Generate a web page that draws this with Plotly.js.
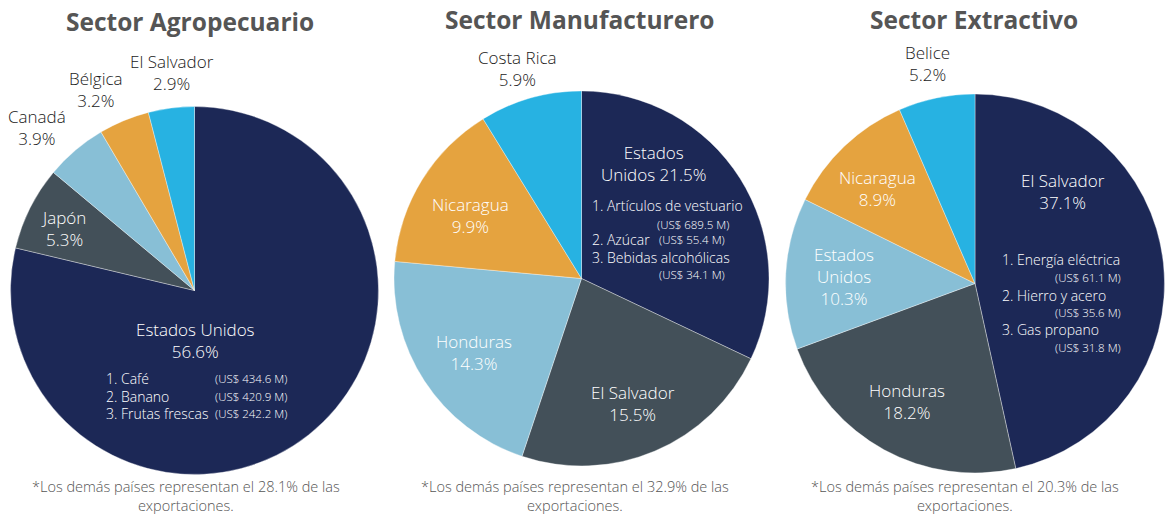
<!DOCTYPE html>
<html>
<head>
<meta charset="utf-8">
<script src="https://cdn.plot.ly/plotly-3.0.1.min.js"></script>
<style>html,body{margin:0;padding:0;background:#fff;}#chart{width:1168px;height:516px;}</style>
</head>
<body>
<div id="chart"></div>
<script>
// ---- Data ----
const sectorTitles = ["Sector Agropecuario", "Sector Manufacturero", "Sector Extractivo"];
const agroCountries = ["Estados Unidos", "Japón", "Canadá", "Bélgica", "El Salvador"];
const agroShares = [56.6, 5.3, 3.9, 3.2, 2.9];
const manuCountries = ["Estados Unidos", "El Salvador", "Honduras", "Nicaragua", "Costa Rica"];
const manuShares = [21.5, 15.5, 14.3, 9.9, 5.9];
const extrCountries = ["El Salvador", "Honduras", "Estados Unidos", "Nicaragua", "Belice"];
const extrShares = [37.1, 18.2, 10.3, 8.9, 5.2];
const othersShares = [28.1, 32.9, 20.3];
const agroProducts = ["1. Café", "2. Banano", "3. Frutas frescas"];
const agroProductValues = ["(US$ 434.6 M)", "(US$ 420.9 M)", "(US$ 242.2 M)"];
const manuProducts = ["1. Artículos de vestuario", "2. Azúcar", "3. Bebidas alcohólicas"];
const manuProductValues = ["(US$ 689.5 M)", "(US$ 55.4 M)", "(US$ 34.1 M)"];
const extrProducts = ["1. Energía eléctrica", "2. Hierro y acero", "3. Gas propano"];
const extrProductValues = ["(US$ 61.1 M)", "(US$ 35.6 M)", "(US$ 31.8 M)"];

// ---- Styling ----
const W = 1168, H = 516;
const sliceColors = ["#1c2856", "#435059", "#88bfd6", "#e5a33f", "#27b2e2"];
const FONT = "Open Sans, sans-serif";
const px = x => x / W;
const py = y => 1 - y / H;

function pieTrace(labels, values, cx, cy, r) {
  return {
    type: "pie", labels: labels, values: values, sort: false,
    direction: "clockwise", rotation: 0, textinfo: "none", hoverinfo: "label+value",
    marker: {colors: sliceColors, line: {color: "rgba(255,255,255,0.6)", width: 0.6}},
    domain: {x: [px(cx - r), px(cx + r)], y: [py(cy + r), py(cy - r)]},
    showlegend: false
  };
}

const data = [
  pieTrace(agroCountries, agroShares, 194.5, 290.5, 184),
  pieTrace(manuCountries, manuShares, 581.5, 278.5, 187.5),
  pieTrace(extrCountries, extrShares, 975, 283.5, 189.5)
];

const ann = [];
function lab(text, x, y, color, size, anchor) {
  ann.push({text: text, x: px(x), y: py(y), xref: "paper", yref: "paper", showarrow: false,
    xanchor: anchor || "center", yanchor: "middle", align: anchor || "center",
    font: {family: FONT, size: size || 17, color: color, weight: 300}});
}
const pct = v => v.toFixed(1) + "%";
const DARK = "#1a1a1a", WH = "#ffffff";
const LS = 17, PS = 14, VS = 11.5;

// Titles
[[sectorTitles[0], 190, 22], [sectorTitles[1], 579, 20], [sectorTitles[2], 974, 20]].forEach(t => {
  ann.push({text: t[0], x: px(t[1]), y: py(t[2]), xref: "paper", yref: "paper", showarrow: false,
    xanchor: "center", yanchor: "middle", font: {family: FONT, size: 24.5, color: "#555555", weight: 700}});
});

// Agropecuario labels
lab(agroCountries[0] + "<br>" + pct(agroShares[0]), 195, 340, WH, LS);
lab(agroCountries[1] + "<br>" + pct(agroShares[1]), 63, 228, WH, LS);
lab(agroCountries[2] + "<br>" + pct(agroShares[2]), 37, 127, DARK, LS);
lab(agroCountries[3] + "<br>" + pct(agroShares[3]), 96, 90, DARK, LS);
lab(agroCountries[4] + "<br>" + pct(agroShares[4]), 172, 72, DARK, LS);
[378, 396, 413].forEach((y, i) => {
  lab(agroProducts[i], 104, y, WH, PS, "left");
  lab(agroProductValues[i], 289, y, WH, VS, "right");
});

// Manufacturero labels
lab("Estados<br>Unidos " + pct(manuShares[0]), 653, 163, WH, LS);
lab(manuCountries[1] + "<br>" + pct(manuShares[1]), 633, 403, WH, LS);
lab(manuCountries[2] + "<br>" + pct(manuShares[2]), 474, 352, WH, LS);
lab(manuCountries[3] + "<br>" + pct(manuShares[3]), 471, 215, WH, LS);
lab(manuCountries[4] + "<br>" + pct(manuShares[4]), 517, 68, DARK, LS);
lab(manuProducts[0], 590, 205, WH, PS, "left");
lab(manuProductValues[0], 731, 224, WH, VS, "right");
lab(manuProducts[1], 590, 240, WH, PS, "left");
lab(manuProductValues[1], 727, 240, WH, VS, "right");
lab(manuProducts[2], 590, 257, WH, PS, "left");
lab(manuProductValues[2], 727, 274, WH, VS, "right");

// Extractivo labels
lab(extrCountries[0] + "<br>" + pct(extrShares[0]), 1063, 191, WH, LS);
lab(extrCountries[1] + "<br>" + pct(extrShares[1]), 907, 401, WH, LS);
lab("Estados<br>Unidos<br>" + pct(extrShares[2]), 844, 276, WH, LS);
lab(extrCountries[3] + "<br>" + pct(extrShares[3]), 877, 188, WH, LS);
lab(extrCountries[4] + "<br>" + pct(extrShares[4]), 927, 63, DARK, LS);
[[259, 277], [295, 312], [329, 347]].forEach((ys, i) => {
  lab(extrProducts[i], 1000, ys[0], WH, PS, "left");
  lab(extrProductValues[i], 1123, ys[1], WH, VS, "right");
});

// Footnotes
[[186, 0], [575, 1], [965, 2]].forEach(f => {
  ann.push({text: "*Los demás países representan el " + pct(othersShares[f[1]]) + " de las<br>exportaciones.",
    x: px(f[0]), y: 0, xref: "paper", yref: "paper", showarrow: false, borderpad: 0,
    xanchor: "center", yanchor: "bottom", align: "center",
    font: {family: FONT, size: 14.5, color: "#555555", weight: 300}});
});

const layout = {
  width: W, height: H, margin: {l: 0, r: 0, t: 0, b: 0},
  paper_bgcolor: "#ffffff", plot_bgcolor: "#ffffff",
  annotations: ann, showlegend: false
};
Plotly.newPlot("chart", data, layout, {displayModeBar: false, staticPlot: true});
</script>
</body>
</html>
